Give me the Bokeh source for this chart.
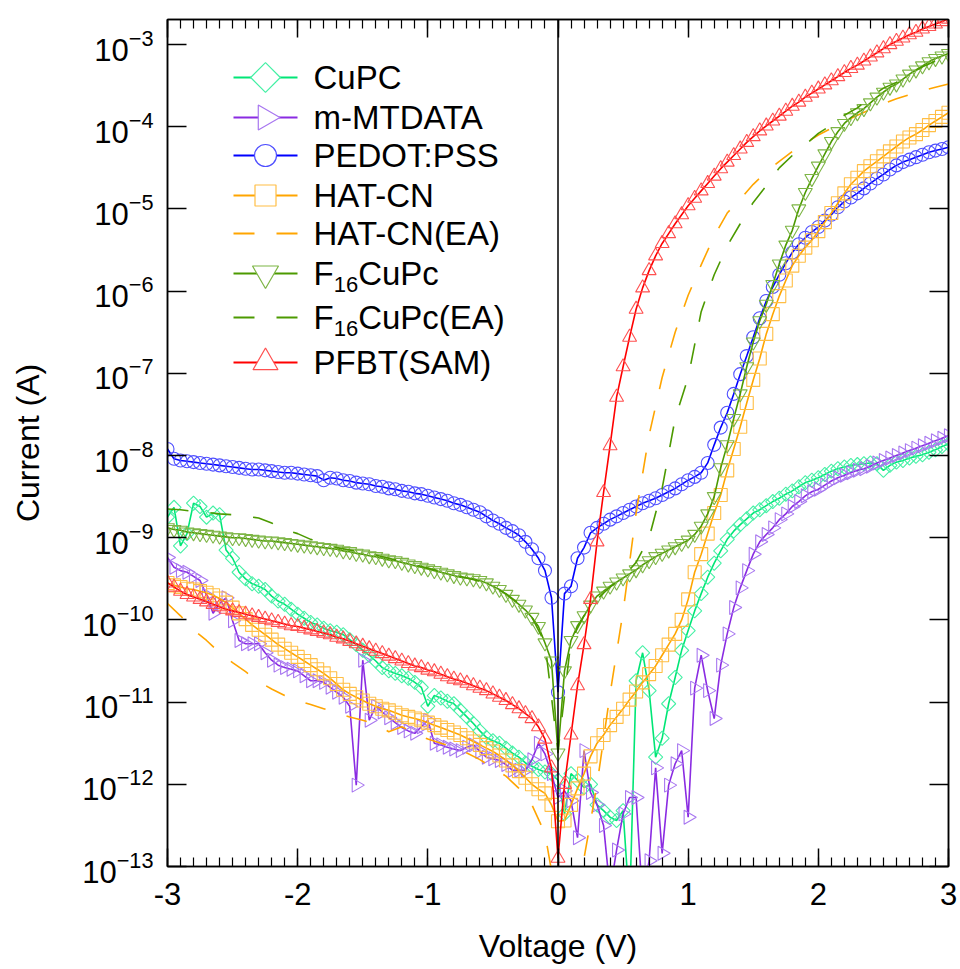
import numpy as np
from bokeh.plotting import figure
from bokeh.models import (Range1d, LinearAxis, LogAxis, FixedTicker, SingleIntervalTicker,
                          Span, ColumnDataSource, LinearScale)
from bokeh.embed import file_html
from bokeh.resources import INLINE
from bokeh.core.properties import value

# ---------------- data (log10 of current in A) ----------------
# voltage sweep -3 V .. 3 V, 0.05 V step (121 points) for marker series
voltage = np.round(np.linspace(-3.0, 3.0, 121), 2)
# 0.1 V step (61 points) for the dashed (EA) series
voltage_ea = np.round(np.linspace(-3.0, 3.0, 61), 2)

cupc_log = [
    -8.75, -8.63, -9.10, -8.95, -8.58, -8.62, -8.75, -8.70, -8.72, -9.15,
    -9.25, -9.42, -9.50, -9.56, -9.59, -9.63, -9.71, -9.77, -9.81, -9.87,
    -9.93, -9.98, -10.03, -10.06, -10.10, -10.13, -10.15, -10.18, -10.24, -10.30,
    -10.37, -10.43, -10.50, -10.58, -10.62, -10.65, -10.68, -10.71, -10.76, -10.82,
    -11.05, -10.92, -10.95, -10.99, -11.02, -11.10, -11.18, -11.26, -11.35, -11.43,
    -11.47, -11.50, -11.56, -11.62, -11.67, -11.74, -11.78, -11.82, -11.85, -11.87,
    -11.95,
    -12.36, -11.87, -11.95, -12.04, -12.00, -12.25, -12.32, -12.40, -12.44, -12.32,
    -13.50, -10.74, -10.40, -10.86, -11.67, -11.44, -11.02, -10.70, -10.37, -10.13,
    -9.89, -9.68, -9.48, -9.31, -9.16, -9.02, -8.92, -8.84, -8.77, -8.70,
    -8.66, -8.61, -8.56, -8.52, -8.47, -8.43, -8.38, -8.33, -8.30, -8.27,
    -8.23, -8.19, -8.16, -8.14, -8.12, -8.11, -8.10, -8.09, -8.10, -8.18,
    -8.12, -8.08, -8.06, -8.03, -8.01, -7.99, -7.96, -7.93, -7.89, -7.86,
]

mmtdata_log = [
    -9.24, -9.36, -9.40, -9.42, -9.47, -9.52, -9.70, -9.92, -9.80, -9.73,
    -10.01, -10.25, -10.29, -10.29, -10.29, -10.40, -10.49, -10.55, -10.58, -10.60,
    -10.62, -10.68, -10.74, -10.74, -10.76, -10.82, -10.88, -10.94, -11.05, -12.01,
    -10.49, -11.22, -11.05, -11.12, -11.19, -11.25, -11.31, -11.35, -11.38, -11.30,
    -11.22, -11.50, -11.52, -11.55, -11.57, -11.59, -11.55, -11.52, -11.60, -11.67,
    -11.69, -11.71, -11.76, -11.83, -11.83, -11.83, -11.70, -11.50, -11.63, -11.87,
    -12.16,
    -12.08, -12.20, -12.65, -11.59, -12.10, -12.25, -12.50, -13.30, -12.80, -12.36,
    -12.16, -12.16, -13.40, -12.93, -11.80, -12.84, -12.01, -11.75, -11.59, -12.40,
    -10.83, -10.43, -10.86, -11.20, -10.55, -10.17, -9.85, -9.61, -9.40, -9.20,
    -9.05, -8.96, -8.88, -8.78, -8.71, -8.62, -8.56, -8.49, -8.44, -8.41,
    -8.36, -8.31, -8.27, -8.24, -8.21, -8.18, -8.16, -8.13, -8.09, -8.06,
    -8.03, -8.00, -7.97, -7.94, -7.91, -7.88, -7.85, -7.82, -7.79, -7.76,
]

pedot_log = [
    -7.92, -8.04, -8.06, -8.07, -8.08, -8.09, -8.10, -8.11, -8.12, -8.13,
    -8.14, -8.15, -8.16, -8.17, -8.17, -8.18, -8.19, -8.20, -8.21, -8.21,
    -8.22, -8.23, -8.24, -8.25, -8.30, -8.27, -8.28, -8.30, -8.31, -8.33,
    -8.34, -8.35, -8.37, -8.38, -8.40, -8.41, -8.43, -8.44, -8.46, -8.47,
    -8.49, -8.51, -8.53, -8.55, -8.58, -8.60, -8.63, -8.66, -8.69, -8.74,
    -8.79, -8.83, -8.88, -8.92, -8.97, -9.05, -9.14, -9.25, -9.40, -9.73,
    -10.88,
    -9.68, -9.59, -9.25, -9.12, -8.94, -8.88, -8.83, -8.78, -8.74, -8.70,
    -8.66, -8.62, -8.58, -8.55, -8.52, -8.48, -8.44, -8.40, -8.35, -8.30,
    -8.26, -8.21, -8.09, -7.87, -7.66, -7.48, -7.25, -7.01, -6.79, -6.56,
    -6.33, -6.12, -5.95, -5.80, -5.66, -5.53, -5.43, -5.35, -5.28, -5.22,
    -5.14, -5.07, -4.98, -4.91, -4.86, -4.81, -4.75, -4.69, -4.63, -4.58,
    -4.52, -4.47, -4.43, -4.40, -4.37, -4.34, -4.31, -4.29, -4.27, -4.25,
]

hatcn_log = [
    -9.55, -9.58, -9.60, -9.62, -9.63, -9.65, -9.67, -9.70, -9.74, -9.79,
    -9.85, -9.92, -9.99, -10.06, -10.12, -10.18, -10.24, -10.30, -10.35, -10.40,
    -10.45, -10.50, -10.55, -10.60, -10.65, -10.71, -10.78, -10.85, -10.90, -10.94,
    -10.98, -11.02, -11.05, -11.08, -11.10, -11.13, -11.16, -11.18, -11.20, -11.22,
    -11.25, -11.28, -11.31, -11.34, -11.37, -11.40, -11.44, -11.48, -11.52, -11.56,
    -11.60, -11.65, -11.71, -11.77, -11.84, -11.92, -12.00, -12.06, -12.11, -12.25,
    -12.45,
    -12.44, -12.25, -12.05, -11.87, -11.66, -11.50, -11.40, -11.28, -11.18, -11.08,
    -10.97, -10.87, -10.76, -10.66, -10.56, -10.43, -10.30, -10.17, -10.00, -9.75,
    -9.42, -9.20, -8.95, -8.70, -8.48, -8.18, -7.92, -7.65, -7.36, -7.08,
    -6.82, -6.52, -6.28, -6.06, -5.87, -5.69, -5.57, -5.47, -5.38, -5.27,
    -5.16, -5.05, -4.93, -4.81, -4.70, -4.62, -4.54, -4.48, -4.42, -4.36,
    -4.30, -4.24, -4.18, -4.13, -4.09, -4.04, -3.98, -3.93, -3.88, -3.83,
]

hatcn_ea_log = [
    -9.80, -9.95, -10.12, -10.25, -10.40, -10.52, -10.63, -10.75, -10.84, -10.92,
    -10.98, -11.03, -11.08, -11.13, -11.18, -11.22, -11.27, -11.36, -11.30, -11.38,
    -11.45, -11.50, -11.55, -11.62, -11.70, -11.80, -11.90, -12.05, -12.25, -12.60,
    -13.50,
    -13.50, -12.90, -12.00, -10.90, -9.90, -8.70, -7.75, -7.05, -6.50, -6.05,
    -5.68, -5.33, -5.05, -4.88, -4.70, -4.55, -4.42, -4.30, -4.20, -4.10,
    -4.02, -3.94, -3.86, -3.79, -3.72, -3.66, -3.61, -3.56, -3.52, -3.48,
]

f16cupc_log = [
    -8.88, -8.90, -8.91, -8.93, -8.94, -8.95, -8.96, -8.97, -8.98, -8.99,
    -9.00, -9.00, -9.01, -9.02, -9.03, -9.04, -9.04, -9.05, -9.06, -9.07,
    -9.08, -9.09, -9.10, -9.11, -9.12, -9.13, -9.14, -9.16, -9.17, -9.19,
    -9.20, -9.22, -9.23, -9.25, -9.27, -9.28, -9.30, -9.32, -9.34, -9.36,
    -9.38, -9.40, -9.42, -9.44, -9.46, -9.48, -9.49, -9.50, -9.52, -9.55,
    -9.59, -9.63, -9.69, -9.75, -9.81, -9.88, -9.97, -10.08, -10.28, -10.50,
    -11.62,
    -10.62, -10.25, -10.07, -9.95, -9.82, -9.71, -9.65, -9.59, -9.54, -9.49,
    -9.44, -9.39, -9.33, -9.28, -9.23, -9.19, -9.15, -9.11, -9.07, -9.03,
    -8.96, -8.86, -8.71, -8.50, -8.15, -7.87, -7.55, -7.25, -6.92, -6.62,
    -6.36, -6.16, -5.92, -5.67, -5.44, -5.26, -5.00, -4.80, -4.63, -4.48,
    -4.33, -4.18, -4.06, -3.96, -3.89, -3.83, -3.78, -3.71, -3.64, -3.58,
    -3.52, -3.48, -3.42, -3.36, -3.31, -3.26, -3.21, -3.17, -3.14, -3.11,
]

f16cupc_ea_log = [
    -8.65, -8.66, -8.68, -8.69, -8.71, -8.72, -8.74, -8.76, -8.82, -8.90,
    -8.95, -9.02, -9.08, -9.12, -9.15, -9.18, -9.21, -9.25, -9.29, -9.33,
    -9.37, -9.41, -9.45, -9.49, -9.53, -9.60, -9.68, -9.80, -9.97, -10.28,
    -11.60,
    -10.25, -9.95, -9.75, -9.60, -9.48, -9.30, -9.00, -8.40, -7.55, -7.05,
    -6.25, -5.80, -5.45, -5.18, -4.92, -4.72, -4.50, -4.35, -4.22, -4.08,
    -3.98, -3.86, -3.77, -3.64, -3.53, -3.46, -3.36, -3.27, -3.20, -3.13,
]

pfbt_log = [
    -9.55, -9.60, -9.65, -9.69, -9.72, -9.75, -9.78, -9.81, -9.84, -9.87,
    -9.89, -9.91, -9.93, -9.95, -9.97, -9.99, -10.01, -10.03, -10.05, -10.07,
    -10.08, -10.10, -10.12, -10.14, -10.16, -10.18, -10.21, -10.23, -10.26, -10.29,
    -10.32, -10.35, -10.38, -10.41, -10.44, -10.47, -10.50, -10.53, -10.56, -10.58,
    -10.61, -10.63, -10.66, -10.69, -10.72, -10.74, -10.77, -10.80, -10.83, -10.86,
    -10.90, -10.94, -10.98, -11.03, -11.08, -11.14, -11.20, -11.30, -11.45, -11.80,
    -12.90,
    -12.00, -11.40, -10.80, -10.30, -9.75, -9.05, -8.45, -7.88, -7.29, -6.92,
    -6.56, -6.22, -5.96, -5.75, -5.57, -5.42, -5.30, -5.18, -5.07, -4.96,
    -4.87, -4.78, -4.69, -4.60, -4.51, -4.43, -4.35, -4.27, -4.19, -4.12,
    -4.05, -3.99, -3.93, -3.87, -3.81, -3.75, -3.70, -3.64, -3.59, -3.54,
    -3.49, -3.44, -3.39, -3.34, -3.29, -3.25, -3.20, -3.15, -3.10, -3.05,
    -3.00, -2.96, -2.92, -2.88, -2.85, -2.81, -2.78, -2.75, -2.72, -2.69,
]

series_names = ["CuPC", "m-MTDATA", "PEDOT:PSS", "HAT-CN", "HAT-CN(EA)",
                "F16CuPc", "F16CuPc(EA)", "PFBT(SAM)"]
y_tick_values = [1e-13, 1e-12, 1e-11, 1e-10, 1e-9, 1e-8, 1e-7, 1e-6, 1e-5, 1e-4, 1e-3]
x_tick_labels = {-3: "-3", -2: "-2", -1: "-1", 0: "0", 1: "1", 2: "2", 3: "3"}

for arr in (cupc_log, mmtdata_log, pedot_log, hatcn_log, f16cupc_log, pfbt_log):
    assert len(arr) == len(voltage), len(arr)
for arr in (hatcn_ea_log, f16cupc_ea_log):
    assert len(arr) == len(voltage_ea), len(arr)

FONT = "Liberation Sans"

# ---------------- figure ----------------
p = figure(width=960, height=969,
           x_range=Range1d(-3, 3), y_range=Range1d(1e-13, 10 ** -2.695),
           y_axis_type="log", output_backend="svg", toolbar_location=None,
           min_border_left=167, min_border_right=12, min_border_top=19,
           min_border_bottom=103)
p.background_fill_color = "white"
p.border_fill_color = "white"
p.outline_line_color = "black"
p.outline_line_width = 1.5
p.xgrid.visible = False
p.ygrid.visible = False

# pixel-space ranges for the hand-made legend
fw, fh = 781, 847
p.extra_x_ranges = {"px": Range1d(0, fw)}
p.extra_y_ranges = {"px": Range1d(fh, 0)}
p.extra_x_scales = {"px": LinearScale()}
p.extra_y_scales = {"px": LinearScale()}

# bottom x axis
xa = p.xaxis[0]
xa.ticker = SingleIntervalTicker(interval=1, num_minor_ticks=10)
xa.major_label_overrides = x_tick_labels
xa.major_tick_in = 18
xa.major_tick_out = 0
xa.minor_tick_in = 9
xa.minor_tick_out = 0
xa.axis_line_width = 1.5
xa.major_tick_line_width = 1.5
xa.minor_tick_line_width = 1.2
xa.major_label_text_font = FONT
xa.major_label_text_font_size = "31px"
xa.major_label_text_color = "black"
xa.major_label_standoff = 16
xa.axis_label = "Voltage (V)"
xa.axis_label_text_font = FONT
xa.axis_label_text_font_size = "32px"
xa.axis_label_text_font_style = "normal"
xa.axis_label_text_color = "black"
xa.axis_label_standoff = 20

# top x axis (ticks only)
xt = LinearAxis(ticker=SingleIntervalTicker(interval=1, num_minor_ticks=10),
                major_tick_in=18, major_tick_out=0, minor_tick_in=9, minor_tick_out=0,
                axis_line_width=1.5, major_tick_line_width=1.5, minor_tick_line_width=1.2,
                major_label_text_font_size="0px", major_label_text_alpha=0)
p.add_layout(xt, "above")

# left y axis
ya = p.yaxis[0]
ya.ticker = FixedTicker(ticks=y_tick_values)
ya.major_tick_in = 19
ya.major_tick_out = 0
ya.minor_tick_line_color = None
ya.axis_line_width = 1.5
ya.major_tick_line_width = 1.5
ya.major_label_text_font = FONT
ya.major_label_text_font_size = "31px"
ya.major_label_text_color = "black"
ya.major_label_standoff = 14
ya.axis_label = "Current (A)"
ya.axis_label_text_font = FONT
ya.axis_label_text_font_size = "32px"
ya.axis_label_text_font_style = "normal"
ya.axis_label_text_color = "black"
ya.axis_label_standoff = 33

# right y axis (ticks only)
yr = LogAxis(ticker=FixedTicker(ticks=y_tick_values), major_tick_in=19, major_tick_out=0,
             minor_tick_line_color=None, axis_line_width=1.5, major_tick_line_width=1.5,
             major_label_text_font_size="0px", major_label_text_alpha=0)
p.add_layout(yr, "right")

# vertical line at V = 0
p.add_layout(Span(location=0, dimension="height", line_color="black", line_width=1.5))

HALF_PI = np.pi / 2
QUARTER_PI = np.pi / 4

styles = [
    # name, values, x, line color, marker color, marker, size, angle, dash
    ("CuPC", cupc_log, voltage, "#00E676", "#45F0A5", "square", 10, QUARTER_PI, "solid"),
    ("m-MTDATA", mmtdata_log, voltage, "#8A2BE2", "#A877F0", "triangle", 14, -HALF_PI, "solid"),
    ("PEDOT:PSS", pedot_log, voltage, "#0000FF", "#4F4FFF", "circle", 13, 0, "solid"),
    ("HAT-CN", hatcn_log, voltage, "#FFA500", "#FFBE45", "square", 13, 0, "solid"),
    ("HAT-CN(EA)", hatcn_ea_log, voltage_ea, "#FFA500", None, None, 0, 0, "21 22"),
    ("F16CuPc", f16cupc_log, voltage, "#4C9A00", "#7DB545", "inverted_triangle", 14, 0, "solid"),
    ("F16CuPc(EA)", f16cupc_ea_log, voltage_ea, "#4C9A00", None, None, 0, 0, "21 22"),
    ("PFBT(SAM)", pfbt_log, voltage, "#FF0000", "#FF5050", "triangle", 14, 0, "solid"),
]

for name, vals, xs, lc, mc, marker, size, angle, dash in styles:
    src = ColumnDataSource(dict(x=xs, y=10.0 ** np.array(vals)))
    p.line("x", "y", source=src, line_color=lc, line_width=1.6, line_dash=dash)
    if marker is not None:
        p.scatter("x", "y", source=src, marker=marker, size=size, angle=angle,
                  fill_color=None, line_color=mc, line_width=1.1)

# ---------------- hand-made legend (pixel coordinates inside the frame) ----------------
row_y = [58, 98, 136, 176, 214, 254, 298, 343]
lx0, lx1, lmx, tx = 66, 130, 98, 146
legend_markers = [("square", 21, QUARTER_PI), ("triangle", 25, -HALF_PI), ("circle", 22, 0),
                  ("square", 21, 0), (None, 0, 0), ("inverted_triangle", 26, 0),
                  (None, 0, 0), ("triangle", 25, 0)]
for (name, vals, xs, lc, mc, marker, size, angle, dash), (lm, ls, la), ry in zip(styles, legend_markers, row_y):
    p.line([lx0, lx1], [ry, ry], x_range_name="px", y_range_name="px",
           line_color=lc, line_width=2, line_dash=dash)
    if lm is not None:
        p.scatter([lmx], [ry], x_range_name="px", y_range_name="px", marker=lm, size=ls,
                  angle=la, fill_color="white", line_color=mc, line_width=1.2)

plain_rows = [0, 1, 2, 3, 4, 7]
p.text(x=[tx] * len(plain_rows), y=[row_y[i] for i in plain_rows],
       text=[series_names[i] for i in plain_rows],
       x_range_name="px", y_range_name="px",
       text_font=value(FONT), text_font_size="33px", text_color="black",
       text_align="left", text_baseline="middle")
# F16 rows with real subscripts
f_w = 0.611 * 33
sub_w = 2 * 0.556 * 22
for i, tail in ((5, "CuPc"), (6, "CuPc(EA)")):
    ry = row_y[i]
    p.text(x=[tx, tx + f_w + sub_w], y=[ry, ry], text=["F", tail],
           x_range_name="px", y_range_name="px",
           text_font=value(FONT), text_font_size="33px", text_color="black",
           text_align="left", text_baseline="middle")
    p.text(x=[tx + f_w], y=[ry + 11], text=["16"],
           x_range_name="px", y_range_name="px",
           text_font=value(FONT), text_font_size="22px", text_color="black",
           text_align="left", text_baseline="middle")

open("out.html", "w").write(file_html(p, INLINE))
